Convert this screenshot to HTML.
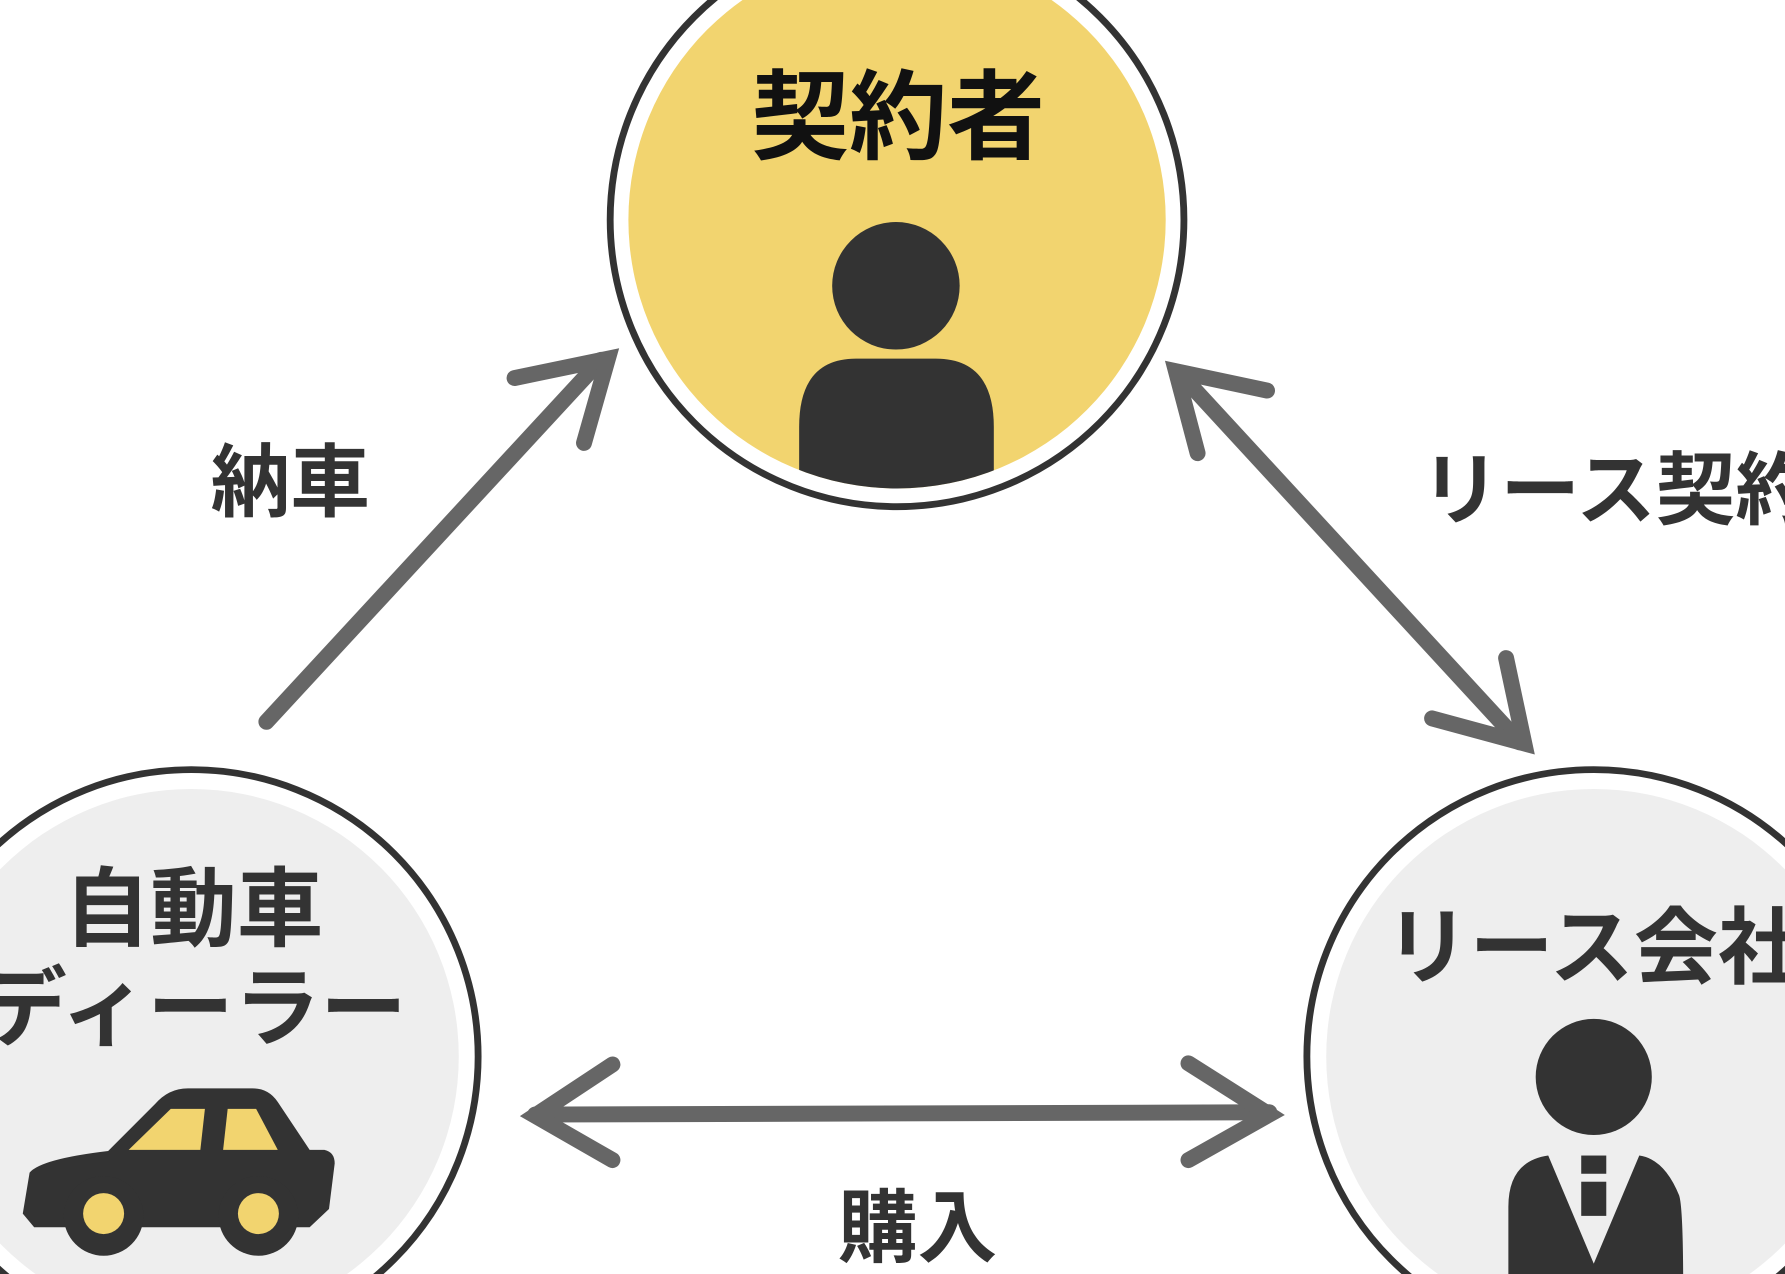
<!DOCTYPE html>
<html><head><meta charset="utf-8"><style>
html,body{margin:0;padding:0;background:#fff;overflow:hidden;width:1785px;height:1274px}
svg{display:block}
text{font-family:"Liberation Sans","Noto Sans CJK JP",sans-serif;font-weight:bold}
</style></head><body>
<svg width="1785" height="1274" viewBox="0 0 1568 1119" xmlns="http://www.w3.org/2000/svg">
<defs>
<clipPath id="c1"><circle cx="788" cy="193" r="236"/></clipPath>
<clipPath id="c3"><circle cx="1400" cy="928" r="236"/></clipPath>
</defs>
<circle cx="788" cy="193" r="252" fill="#fff" stroke="#333" stroke-width="6"/>
<circle cx="788" cy="193" r="236" fill="#F2D46F"/>
<text x="789" y="133" font-size="86" text-anchor="middle" fill="#111">契約者</text>
<circle cx="787" cy="251" r="56" fill="#333"/>
<g clip-path="url(#c1)">
<path d="M702 470 V375 Q702 315 752 315 H822 Q873 315 873 375 V470 Z" fill="#333"/>
</g>
<circle cx="168" cy="928" r="252" fill="#fff" stroke="#333" stroke-width="6"/>
<circle cx="168" cy="928" r="235" fill="#eee"/>
<text x="170" y="825" font-size="76" text-anchor="middle" fill="#333">自動車</text>
<text x="170" y="912" font-size="76" text-anchor="middle" fill="#333">ディーラー</text>
<path d="M26 1030 Q36 1018 95 1011 L136 970 Q148 956 165 956 H222 Q236 956 244 968 L272 1010 H285 Q294 1012 294 1022 L289 1062 L272 1078 H30 L20 1066 Z" fill="#333"/>
<circle cx="91" cy="1068" r="35" fill="#333"/>
<circle cx="227" cy="1068" r="35" fill="#333"/>
<path d="M113 1010 L150 974 H180 L176 1010 Z" fill="#F2D46F"/>
<path d="M196 1010 L200 974 H225 L244 1010 Z" fill="#F2D46F"/>
<circle cx="91" cy="1066" r="18" fill="#F2D46F"/>
<circle cx="227" cy="1066" r="18" fill="#F2D46F"/>
<circle cx="1400" cy="928" r="252" fill="#fff" stroke="#333" stroke-width="6"/>
<circle cx="1400" cy="928" r="235" fill="#eee"/>
<text x="1400" y="858" font-size="74" text-anchor="middle" fill="#333">リース会社</text>
<circle cx="1400" cy="946" r="51" fill="#333"/>
<g clip-path="url(#c3)">
<path d="M1325 1200 V1060 Q1325 1020 1360 1015 L1400 1110 L1440 1015 Q1462 1018 1475 1050 Q1480 1065 1478 1200 Z" fill="#333"/>
<rect x="1389" y="1015" width="22" height="16" fill="#333"/>
<rect x="1389" y="1038" width="22" height="30" fill="#333"/>
</g>
<g stroke="#666" stroke-width="14" stroke-linecap="round" stroke-linejoin="miter" fill="none">
<line x1="234" y1="634" x2="528" y2="316"/>
<polyline points="452,332 534,315 513,389"/>
<line x1="1040" y1="332" x2="1335" y2="652"/>
<polyline points="1113,343 1033,326 1052,398"/>
<polyline points="1323,578 1339,653 1258,631"/>
<line x1="470" y1="979" x2="1115" y2="977"/>
<polyline points="538,935 470,980 538,1019"/>
<polyline points="1044,934 1115,979 1044,1019"/>
</g>
<text x="255" y="448" font-size="70" text-anchor="middle" fill="#333">納車</text>
<text x="1248" y="455" font-size="70" fill="#333">リース契約</text>
<text x="806" y="1103" font-size="70" text-anchor="middle" fill="#333">購入</text>
</svg>
</body></html>
